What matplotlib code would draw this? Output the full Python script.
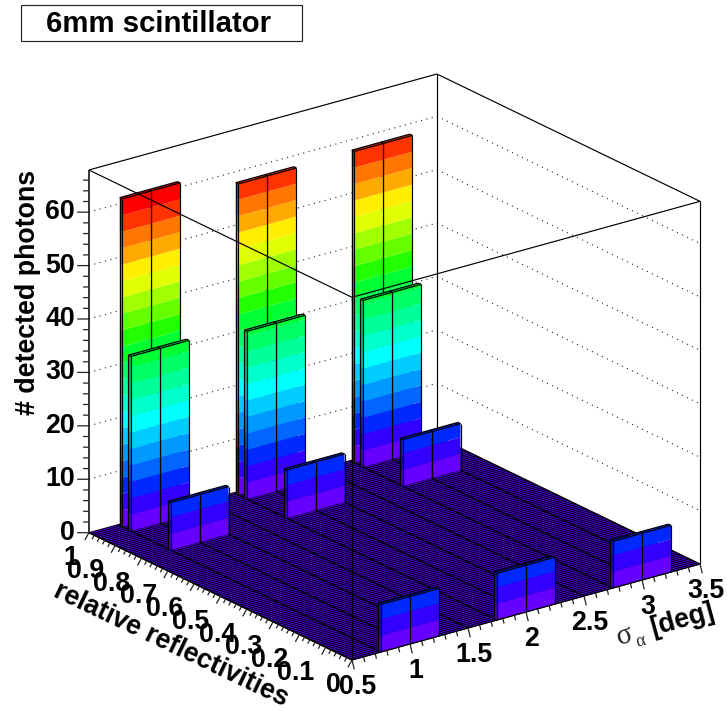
import numpy as np
import matplotlib
matplotlib.use("Agg")
import matplotlib.pyplot as plt
from mpl_toolkits.mplot3d import proj3d
from mpl_toolkits.mplot3d.art3d import Poly3DCollection, Line3DCollection
from matplotlib.colors import to_rgb
from matplotlib.patches import Rectangle

plt.rcParams['font.family'] = ['Liberation Sans', 'DejaVu Sans']

# ---------- data ----------
sigma_centres = [1.0, 2.0, 3.0]
sigma_bin_width = 0.25
refl_rows = [0.983, 0.95, 0.80, 0.00]
refl_bin_width = 0.01
counts_099 = [61.4, 58.2, 58.3]
counts_095 = [32.7, 31.4, 31.2]
counts_080 = [8.9, 9.0, 8.7]
counts_000 = [8.9, 8.75, 8.73]
counts = [counts_099, counts_095, counts_080, counts_000]

level_width = 3.07
level_colors = ['#6600ff', '#3300ff', '#0028ff', '#0066ff', '#0099ff', '#00ccff', '#00ffff',
                '#00ffcc', '#00ff99', '#00ff66', '#00ff33', '#22ff00', '#66ff00', '#a0ff00',
                '#e0ff00', '#ffee00', '#ffaa00', '#ff7700', '#ff3300', '#ff0000']

x_major = [0.5, 1, 1.5, 2, 2.5, 3, 3.5]
x_major_labels = ['0.5', '1', '1.5', '2', '2.5', '3', '3.5']
y_major = [0, .1, .2, .3, .4, .5, .6, .7, .8, .9, 1]
y_major_labels = ['0', '0.1', '0.2', '0.3', '0.4', '0.5', '0.6', '0.7', '0.8', '0.9', '1']
z_major = [0, 10, 20, 30, 40, 50, 60]
XLIM = (0.5, 3.5)
YLIM = (0.0, 1.0)
ZLIM = (0.0, 67.9)

W, H = 727, 711
fig = plt.figure(figsize=(W / 100, H / 100), dpi=100, facecolor='white')
ax = fig.add_axes([0.1, 0.1, 0.8, 0.8 * W / H], projection='3d', computed_zorder=False, proj_type='ortho')
ax.view_init(elev=21.43, azim=-127.05)
ax.set_box_aspect((436, 436.6, 389.6))
ax.set_xlim(*XLIM); ax.set_ylim(*YLIM); ax.set_zlim(*ZLIM)
ax.set_axis_off()
ax.patch.set_visible(False)


def to_display(x, y, z):
    u, v, _ = proj3d.proj_transform(x, y, z, ax.get_proj())
    return ax.transData.transform((u, v))


# fit the cube to the measured corners: front corner (352,660), right corner (700,564)
side = 0.8 * W
pos = [0.1 * W, 0.1 * W]
for _ in range(3):
    ax.set_position([pos[0] / W, pos[1] / H, side / W, side / H])
    ax.apply_aspect()
    p0 = to_display(XLIM[0], YLIM[0], 0)
    p1 = to_display(XLIM[1], YLIM[0], 0)
    side *= 348.0 / (p1[0] - p0[0])
    ax.set_position([pos[0] / W, pos[1] / H, side / W, side / H])
    ax.apply_aspect()
    p0 = to_display(XLIM[0], YLIM[0], 0)
    pos[0] += 352 - p0[0]
    pos[1] += (H - 660) - p0[1]
ax.set_position([pos[0] / W, pos[1] / H, side / W, side / H])
ax.apply_aspect()

dx = XLIM[1] - XLIM[0]
dy = YLIM[1] - YLIM[0]
dz = ZLIM[1] - ZLIM[0]


def lines(segs, lw=0.8, color='black', z=1, ls='solid', aa=True):
    c = Line3DCollection(segs, colors=color, linewidths=lw, linestyles=ls, zorder=z, antialiaseds=aa, clip_on=False)
    ax.add_collection3d(c, autolim=False)
    c.set_clip_on(False)
    return c


def polys(vs, fc, z):
    c = Poly3DCollection(vs, facecolors=fc, edgecolors='none', linewidths=0, zorder=z, clip_on=False)
    ax.add_collection3d(c, autolim=False)
    c.set_clip_on(False)
    return c


# back walls: dotted grid at z ticks
x0, x1 = XLIM; y0, y1 = YLIM; zt = ZLIM[1]
grid = []
for z in z_major[1:]:
    grid.append([(x0, y1, z), (x1, y1, z)])
    grid.append([(x1, y1, z), (x1, y0, z)])
lines(grid, lw=0.8, color='#222222', z=1, ls=(0, (1, 4)))
lines([[(x1, y1, 0), (x1, y1, zt)],
       [(x0, y1, zt), (x1, y1, zt)],
       [(x1, y1, zt), (x1, y0, zt)]], lw=0.85, z=1.1)

# floor
polys([[(x0, y0, 0), (x1, y0, 0), (x1, y1, 0), (x0, y1, 0)]], '#5000f0', 2)
fine_edges = np.linspace(y0, y1, 101)
lines([[(x0, y, 0), (x1, y, 0)] for y in fine_edges], lw=0.72, color='#000000', z=2.1)
sigma_edges = np.arange(x0, x1 + 1e-6, sigma_bin_width)
lines([[(s, y0, 0), (s, y1, 0)] for s in sigma_edges], lw=0.95, color='#000000', z=2.2)


def shade(c, f):
    return tuple(f * v for v in to_rgb(c))


# bars, painted back to front
zo = 3.0
for iy, ry in enumerate(refl_rows):
    for ix in reversed(range(len(sigma_centres))):
        h = counts[iy][ix]
        sc = sigma_centres[ix]
        for xa in (sc, sc - sigma_bin_width):
            xb = xa + sigma_bin_width
            ya, yb = ry, ry + refl_bin_width
            nlev = int(np.ceil(h / level_width))
            vs, fc = [], []
            for k in range(nlev):
                z_a = k * level_width
                z_b = min(h, (k + 1) * level_width)
                col = level_colors[k]
                vs.append([(xa, ya, z_a), (xb, ya, z_a), (xb, ya, z_b), (xa, ya, z_b)])
                fc.append(col)
                vs.append([(xa, ya, z_a), (xa, yb, z_a), (xa, yb, z_b), (xa, ya, z_b)])
                fc.append(shade(col, 0.72))
            topcol = level_colors[nlev - 1]
            vs.append([(xa, ya, h), (xb, ya, h), (xb, yb, h), (xa, yb, h)])
            fc.append(shade(topcol, 0.8))
            polys(vs, fc, zo)
            lines([[(xa, ya, 0), (xa, ya, h)],
                   [(xb, ya, 0), (xb, ya, h)],
                   [(xa, ya, h), (xb, ya, h)],
                   [(xa, yb, 0), (xa, yb, h)],
                   [(xa, yb, h), (xb, yb, h)],
                   [(xa, ya, h), (xa, yb, h)],
                   [(xb, ya, h), (xb, yb, h)]], lw=0.85, z=zo + 0.1)
            zo += 0.2

# front box edges on top
ZF = 50
lines([[(x0, y0, 0), (x0, y0, zt)],
       [(x0, y0, zt), (x1, y0, zt)],
       [(x0, y0, zt), (x0, y1, zt)],
       [(x1, y0, 0), (x1, y0, zt)]], lw=0.85, z=ZF)
lines([[(x0, y1, 0), (x0, y1, zt)]], lw=1.1, z=ZF)
lines([[(x0, y0, 0), (x1, y0, 0)], [(x0, y0, 0), (x0, y1, 0)]], lw=0.9, z=ZF)

# ticks
tx = []
for s in np.arange(5, 36) / 10:
    f = 1.0 if abs(s * 2 - round(s * 2)) < 1e-6 else 0.55
    tx.append([(s, y0, 0), (s - 0.031 * dx * f, y0 - 0.0497 * dy * f, 0)])
ty = []
for i in range(0, 51):
    r = i / 50
    f = 1.0 if i % 5 == 0 else 0.55
    ty.append([(x0, r, 0), (x0 - 0.035 * dx * f, r - 0.031 * dy * f, 0)])
tz = []
for z in np.arange(0, 67, 2):
    f = 1.0 if z % 10 == 0 else 0.5
    tz.append([(x0, y1, z), (x0 - 0.0214 * dx * f, y1 + 0.01615 * dy * f, z)])
lines(tx + ty + tz, lw=0.9, color='#222222', z=ZF)


def px(x, y):
    return x / W, 1 - y / H


LAB = 19.3
bold = dict(fontweight='bold', color='black', fontsize=LAB, zorder=60)


def tick_label(x, y, z, s, ox, oy, ha='center'):
    d = to_display(x, y, z)
    fig.text((d[0] + ox) / W, (d[1] - oy) / H, s, ha=ha, va='center', **bold)


for v, s in zip(x_major, x_major_labels):
    tick_label(v, y0, 0, s, 5.5, 26.7)
for v, s in zip(y_major, y_major_labels):
    tick_label(x0, v, 0, s, -11, 25.5, ha='right')
for v in z_major:
    tick_label(x0, y1, v, str(v), -14, 0, ha='right')

# axis titles
fig.text(*px(28, 292), '# detected photons', rotation=90, ha='center', va='center', **bold)
fig.text(*px(171, 645), 'relative reflectivities', rotation=-25.5, rotation_mode='anchor',
         ha='center', va='center', **bold)
fig.text(*px(683, 620), '[deg]', rotation=15.4, rotation_mode='anchor', ha='center', va='center', **bold)
fig.text(*px(625, 636), '\u03c3', family='Liberation Serif', fontsize=21, rotation=15.4,
         rotation_mode='anchor', ha='center', va='center', color='#222222')
fig.text(*px(641, 641), '\u03b1', family='Liberation Serif', fontsize=13, rotation=15.4,
         rotation_mode='anchor', ha='center', va='center', color='#222222')

# title box
fig.add_artist(Rectangle(px(20.5, 41), 281.5 / W, 36.5 / H, transform=fig.transFigure,
                         facecolor='white', edgecolor='#222222', linewidth=0.85))
fig.text(*px(158.5, 24), '6mm scintillator', ha='center', va='center', fontweight='bold', fontsize=21.2, color='black')

fig.savefig('out.png', dpi=100)
